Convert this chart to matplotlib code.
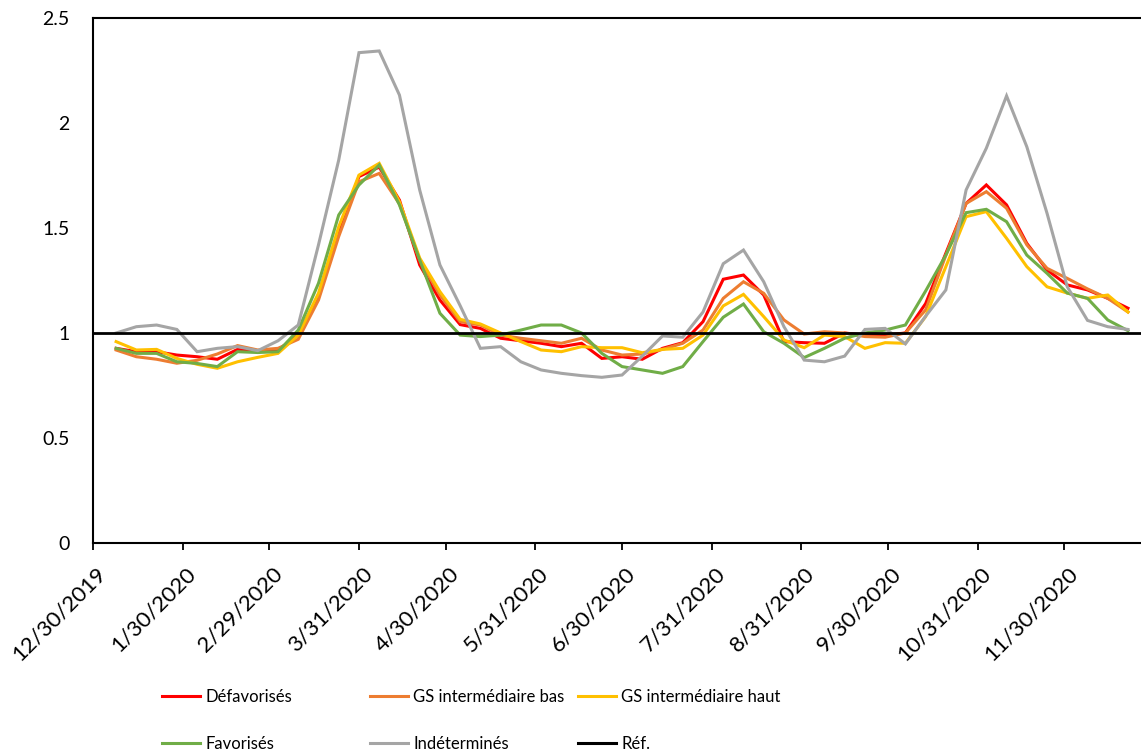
import matplotlib
matplotlib.use("Agg")
import matplotlib.pyplot as plt
import matplotlib.dates as mdates
import matplotlib.transforms as mtransforms
import pandas as pd

plt.rcParams['font.family'] = ['Lato', 'DejaVu Sans']

DATES = [
    "2020-01-07", "2020-01-14", "2020-01-21", "2020-01-28",
    "2020-02-04", "2020-02-11", "2020-02-18", "2020-02-25",
    "2020-03-03", "2020-03-10", "2020-03-17", "2020-03-24", "2020-03-31",
    "2020-04-07", "2020-04-14", "2020-04-21", "2020-04-28",
    "2020-05-05", "2020-05-12", "2020-05-19", "2020-05-26",
    "2020-06-02", "2020-06-09", "2020-06-16", "2020-06-23", "2020-06-30",
    "2020-07-07", "2020-07-14", "2020-07-21", "2020-07-28",
    "2020-08-04", "2020-08-11", "2020-08-18", "2020-08-25",
    "2020-09-01", "2020-09-08", "2020-09-15", "2020-09-22", "2020-09-29",
    "2020-10-06", "2020-10-13", "2020-10-20", "2020-10-27",
    "2020-11-03", "2020-11-10", "2020-11-17", "2020-11-24",
    "2020-12-01", "2020-12-08", "2020-12-15", "2020-12-22",
]

DEFAVORISES = [0.927, 0.911, 0.911, 0.895, 0.887, 0.875, 0.922, 0.911, 0.919, 0.99,
               1.173, 1.475, 1.745, 1.79, 1.633, 1.324, 1.157, 1.04, 1.022, 0.975,
               0.963, 0.951, 0.935, 0.951, 0.879, 0.887, 0.875, 0.927, 0.954, 1.054,
               1.256, 1.276, 1.181, 0.959, 0.954, 0.951, 1.0, 0.99, 0.99, 1.0,
               1.14, 1.38, 1.617, 1.705, 1.61, 1.427, 1.30, 1.229, 1.205, 1.165, 1.118]

GS_BAS = [0.919, 0.887, 0.875, 0.856, 0.87, 0.90, 0.94, 0.919, 0.927, 0.97,
          1.157, 1.46, 1.72, 1.76, 1.615, 1.348, 1.181, 1.054, 1.038, 0.99,
          0.975, 0.963, 0.951, 0.975, 0.919, 0.895, 0.90, 0.922, 0.951, 1.014,
          1.165, 1.244, 1.189, 1.062, 0.995, 1.006, 1.0, 0.983, 0.98, 1.0,
          1.11, 1.37, 1.617, 1.673, 1.594, 1.42, 1.308, 1.26, 1.21, 1.165, 1.10]

GS_HAUT = [0.959, 0.919, 0.922, 0.879, 0.851, 0.832, 0.863, 0.884, 0.903, 0.99,
           1.19, 1.506, 1.752, 1.808, 1.625, 1.357, 1.197, 1.065, 1.043, 1.0,
           0.959, 0.919, 0.911, 0.935, 0.93, 0.93, 0.906, 0.922, 0.927, 0.99,
           1.129, 1.184, 1.078, 0.967, 0.93, 0.99, 0.983, 0.927, 0.954, 0.951,
           1.078, 1.316, 1.554, 1.578, 1.451, 1.316, 1.22, 1.19, 1.165, 1.181, 1.10]

FAVORISES = [0.927, 0.903, 0.903, 0.863, 0.855, 0.84, 0.911, 0.907, 0.911, 1.014,
             1.237, 1.562, 1.705, 1.80, 1.61, 1.348, 1.094, 0.99, 0.983, 0.99,
             1.014, 1.038, 1.038, 1.0, 0.903, 0.84, 0.824, 0.808, 0.84, 0.959,
             1.075, 1.138, 1.006, 0.951, 0.883, 0.927, 0.975, 1.0, 1.014, 1.038,
             1.2, 1.371, 1.573, 1.589, 1.53, 1.371, 1.284, 1.19, 1.165, 1.062, 1.011]

INDETERMINES = [1.00, 1.03, 1.038, 1.017, 0.911, 0.927, 0.935, 0.916, 0.963, 1.038,
                1.42, 1.824, 2.335, 2.343, 2.133, 1.681, 1.324, 1.13, 0.927, 0.935,
                0.863, 0.824, 0.808, 0.797, 0.789, 0.80, 0.89, 0.986, 0.98, 1.10,
                1.33, 1.395, 1.244, 1.03, 0.871, 0.863, 0.89, 1.017, 1.022, 0.948,
                1.08, 1.205, 1.681, 1.88, 2.129, 1.887, 1.57, 1.22, 1.06, 1.03, 1.017]

REF = 1.0

SERIES_NAMES = ["Défavorisés", "GS intermédiaire bas", "GS intermédiaire haut",
                "Favorisés", "Indéterminés", "Réf."]
COLORS = ["#FF0000", "#ED7D31", "#FFC000", "#70AD47", "#A5A5A5", "#000000"]

TICK_DATES = ["2019-12-30", "2020-01-30", "2020-02-29", "2020-03-31", "2020-04-30",
              "2020-05-31", "2020-06-30", "2020-07-31", "2020-08-31", "2020-09-30",
              "2020-10-31", "2020-11-30"]
Y_TICKS = [0, 0.5, 1, 1.5, 2, 2.5]
Y_TICK_LABELS = ["0", "0.5", "1", "1.5", "2", "2.5"]

W, H = 1141, 755
fig = plt.figure(figsize=(W / 100, H / 100), dpi=100)
ax = fig.add_axes([93 / W, 1 - 543 / H, (W - 93) / W, (543 - 18) / H])

dates = pd.to_datetime(DATES)
all_series = [DEFAVORISES, GS_BAS, GS_HAUT, FAVORISES, INDETERMINES]
handles = []
for name, vals, col in zip(SERIES_NAMES[:5], all_series, COLORS[:5]):
    h, = ax.plot(dates, vals, color=col, lw=2.2, solid_joinstyle='miter', label=name)
    handles.append(h)
href = ax.axhline(REF, color=COLORS[5], lw=2.0, label=SERIES_NAMES[5])
handles.append(href)

tick_dates = pd.to_datetime(TICK_DATES)
x0 = mdates.date2num(tick_dates[0])
ax.set_xlim(x0, x0 + 362.5)
ax.set_ylim(0, 2.5)
ax.set_xticks(tick_dates)
ax.set_xticklabels([f"{d.month}/{d.day}/{d.year}" for d in tick_dates],
                   rotation=45, ha='right', va='top', rotation_mode='anchor',
                   fontsize=16)
ax.set_yticks(Y_TICKS)
ax.set_yticklabels(Y_TICK_LABELS, fontsize=14)
ax.tick_params(axis='x', direction='out', length=5, width=1.3, pad=10, color='black')
ax.tick_params(axis='y', length=0, pad=17)
shift = mtransforms.ScaledTranslation(3 / 100, 0, fig.dpi_scale_trans)
for lab in ax.get_xticklabels():
    lab.set_transform(lab.get_transform() + shift)
for s in ['left', 'bottom', 'top']:
    ax.spines[s].set_linewidth(1.5)
    ax.spines[s].set_color('black')
ax.spines['right'].set_visible(False)

cols = [[0, 3], [1, 4], [2, 5]]
xs = [162, 370, 578]
for xpix, idx in zip(xs, cols):
    leg = fig.legend(handles=[handles[i] for i in idx],
                     labels=[SERIES_NAMES[i] for i in idx],
                     loc='upper left', bbox_to_anchor=(xpix / W, 1 - 689 / H),
                     frameon=False, fontsize=12, handlelength=2.3,
                     handletextpad=0.3, labelspacing=1.85,
                     borderpad=0, borderaxespad=0)
    for ln in leg.get_lines():
        ln.set_linewidth(2.2)

fig.savefig("out.png", dpi=100)
